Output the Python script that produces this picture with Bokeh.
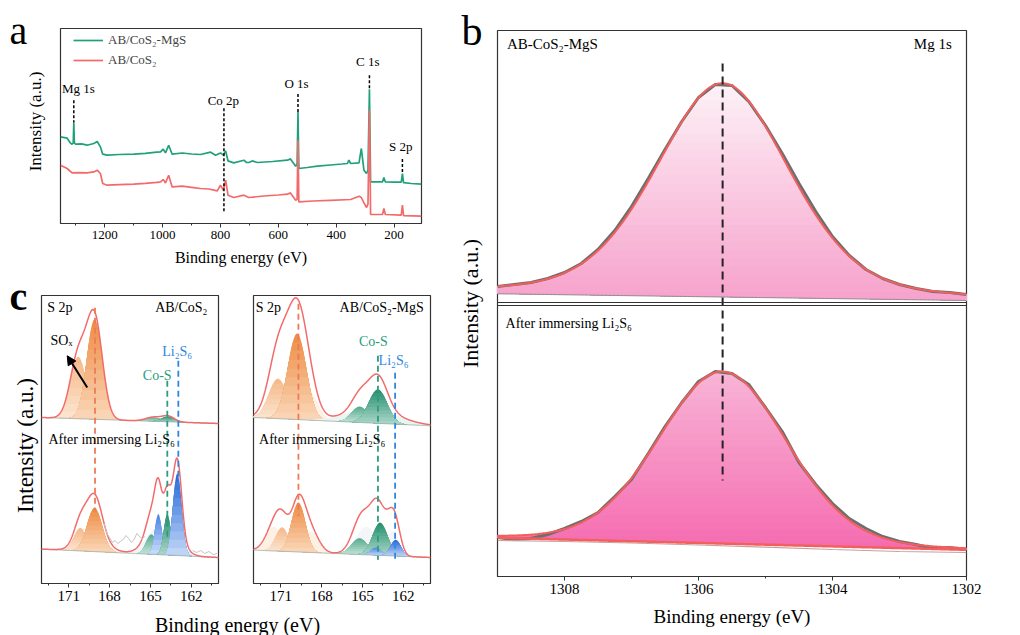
import numpy as np
from bokeh.plotting import figure
from bokeh.models import (Range1d, FixedTicker, Label, Span, Arrow, NormalHead,
                          Legend, LegendItem)
from bokeh.layouts import row, column
from bokeh.embed import file_html
from bokeh.resources import INLINE

SERIF = "Liberation Serif"
INK = "#333333"

# ======================= DATA =======================
# (a) XPS survey spectra: binding energy (eV) / intensity (a.u.)
a_energy_mgs = [1353, 1330, 1319, 1313, 1309, 1307, 1305, 1301, 1280, 1261,
                1238, 1226, 1215, 1207, 1192, 1150, 1100, 1060, 1020, 1007,
                998, 990, 979, 967, 932, 900, 869, 834, 817, 800,
                790, 782, 774, 754, 719, 710, 702, 690, 673, 620,
                569, 558, 540, 535, 532, 529, 500, 465, 420, 380,
                361, 356, 350, 321, 313, 304, 295, 290, 285, 281,
                257, 240, 235, 230, 200, 175, 171, 167, 140, 105]
a_int_mgs = [86.6, 85.3, 80.6, 79.3, 80.3, 101.0, 80.3, 79.3, 79.6, 78.3,
             80.0, 82.0, 76.6, 69.3, 68.3, 69.0, 69.3, 70.2, 71.3, 71.6,
             74.3, 70.6, 78.3, 69.3, 70.5, 69.5, 69.0, 71.3, 68.3, 70.6,
             68.3, 72.6, 62.6, 60.6, 63.3, 61.0, 61.0, 62.6, 61.0, 62.0,
             63.3, 64.6, 57.3, 59.3, 111.6, 55.0, 56.0, 57.3, 58.5, 59.5,
             60.0, 63.3, 60.0, 60.7, 75.0, 53.3, 50.0, 53.3, 134.3, 41.6,
             41.6, 41.6, 46.0, 41.6, 41.4, 41.3, 50.0, 40.8, 40.0, 39.3]
a_energy_cos = [1353, 1330, 1313, 1290, 1261, 1238, 1226, 1215, 1207, 1192,
                1150, 1100, 1060, 1020, 1007, 998, 990, 979, 967, 932,
                900, 869, 840, 811, 800, 790, 782, 774, 754, 719,
                702, 650, 600, 569, 558, 540, 535, 532, 529, 480,
                420, 350, 321, 313, 304, 295, 290, 285, 281, 240,
                235, 230, 175, 171, 167, 105]
a_int_cos = [58.3, 55.0, 50.6, 50.8, 50.6, 51.6, 53.3, 50.0, 40.0, 38.3,
             38.8, 39.3, 40.2, 41.2, 41.6, 44.0, 40.6, 48.3, 36.6, 37.3,
             36.2, 35.0, 34.5, 32.6, 38.3, 33.3, 43.3, 28.3, 26.0, 28.3,
             26.0, 27.5, 28.5, 29.3, 30.6, 23.3, 24.3, 83.3, 21.6, 22.5,
             23.2, 24.0, 27.3, 26.0, 20.6, 16.0, 19.3, 113.3, 9.0, 9.0,
             15.0, 9.0, 8.3, 18.3, 7.8, 7.3]
a_series = ["AB/CoS\u2082-MgS", "AB/CoS\u2082"]
a_peak_names = ["Mg 1s", "Co 2p", "O 1s", "C 1s", "S 2p"]
a_peak_energy = [1307, 788, 532, 285, 171]
a_ticks = [1200, 1000, 800, 600, 400, 200]

# (b) Mg 1s high resolution
b_energy = [1309.0, 1308.75, 1308.5, 1308.25, 1308.0, 1307.75, 1307.5, 1307.25,
            1307.0, 1306.75, 1306.5, 1306.25, 1306.0, 1305.75, 1305.5, 1305.25,
            1305.0, 1304.75, 1304.5, 1304.25, 1304.0, 1303.75, 1303.5, 1303.25,
            1303.0, 1302.75, 1302.5, 1302.25, 1302.0]
b_raw_mgs = [290, 292, 294, 298, 304, 313, 327, 346, 370, 398, 427, 455, 479, 492, 491,
             475, 451, 423, 393, 365, 340, 321, 307, 298, 292, 288, 285, 284, 282]
b_raw_li2s6 = [39, 37, 38, 42, 48, 55, 64, 80, 97, 123, 150, 174, 195, 205, 203,
               192, 169, 145, 114, 92, 73, 58, 48, 40, 35, 32, 28, 29, 27]
b_shirley_energy = [1309, 1308, 1307, 1306, 1305, 1304, 1303, 1302]
b_shirley_li2s6 = [36.0, 35.0, 33.5, 31.5, 29.3, 27.0, 25.0, 24.0]
b_fit_center = [1305.64, 1305.64]
b_fit_fwhm = [2.35, 2.25]
b_fit_height = [213.8, 172.0]
b_fit_lorentz = [0.3, 0.1]
b_base_1309 = [282.7, 38.7]
b_base_1302 = [276.0, 26.7]
b_ticks = [1308, 1306, 1304, 1302]

# (c) S 2p fitted components: kind, centre (eV), FWHM (eV), height (a.u.)
c_ticks = [171, 168, 165, 162]
c1_top_kind = ["orange_light", "orange", "green_light", "green"]
c1_top_center = [170.3, 169.1, 164.8, 163.7]
c1_top_fwhm = [1.4, 1.35, 1.3, 1.1]
c1_top_height = [62, 100, 4, 5.5]
c1_top_base = [166.0, 160.0]          # baseline at 173 eV and 160 eV

c1_bot_kind = ["orange_pale", "orange_light", "orange", "pale", "blue_pale",
               "green_light", "blue_light", "green", "blue"]
c1_bot_center = [169.2, 170.15, 169.1, 164.5, 162.9, 164.93, 164.42, 163.76, 163.03]
c1_bot_fwhm = [2.4, 1.1, 1.3, 2.0, 1.5, 0.9, 0.6, 0.6, 0.75]
c1_bot_height = [12, 23, 44, 26, 9, 20, 40.6, 41, 82]
c1_bot_base = [34.4, 26.0]

c2_top_kind = ["orange_pale", "orange_pale", "orange_light", "orange",
               "green_pale", "green_light", "green"]
c2_top_center = [170.9, 169.0, 171.2, 169.8, 164.3, 165.2, 163.86]
c2_top_fwhm = [2.0, 1.6, 1.6, 1.6, 4.4, 1.4, 1.6]
c2_top_height = [35, 30, 40, 86, 14, 16, 34]
c2_top_base = [166.0, 157.7]

c2_bot_kind = ["orange_pale", "orange_pale", "orange_light", "orange", "pale", "pale",
               "green_light", "green", "blue_light", "blue"]
c2_bot_center = [171.5, 168.8, 170.9, 169.7, 164.7, 162.8, 165.2, 163.7, 164.0, 162.55]
c2_bot_fwhm = [1.4, 1.4, 1.1, 1.2, 1.8, 1.0, 1.4, 1.3, 0.9, 0.9]
c2_bot_height = [24, 21, 24, 49.5, 28, 25, 16.4, 32.8, 7.7, 16.2]
c2_bot_base = [33.4, 26.0]

# ======================= STYLE =======================
KIND = {
    "orange": ("#ee8f48", "#fbdcc0", 10),
    "orange_light": ("#f5bb8c", "#fde9d9", 8),
    "orange_pale": ("#fdf0e5", "#fdf0e5", 1),
    "green": ("#2b9170", "#b5ddd0", 10),
    "green_light": ("#5cae92", "#d2eae1", 8),
    "green_pale": ("#eaf5f1", "#eaf5f1", 1),
    "blue": ("#2c6cdc", "#cddff8", 10),
    "blue_light": ("#4f88e6", "#d7e5fa", 8),
    "blue_pale": ("#dce7fa", "#eef4fd", 4),
    "pale": ("#f3f5f9", "#f3f5f9", 1),
}
GREEN = "#21a07c"
RED = "#f26b6b"
CO_S = "#2a9d7f"
LI_BLUE = "#2f86e0"
ORANGE_DASH = "#ee7a55"


def mix(c1, c2, t):
    a = [int(c1[i:i + 2], 16) for i in (1, 3, 5)]
    b = [int(c2[i:i + 2], 16) for i in (1, 3, 5)]
    return "#%02x%02x%02x" % tuple(int(round(a[k] * t + b[k] * (1 - t))) for k in range(3))


def peak(x, c, w, h, eta=0.0):
    g = np.exp(-4 * np.log(2) * ((x - c) / w) ** 2)
    lo = 1.0 / (1.0 + (2 * (x - c) / w) ** 2)
    return h * ((1 - eta) * g + eta * lo)


def grad_area(p, x, lo, hi, c_top, c_bot, n):
    y0, y1 = float(lo.min()), float(hi.max())
    for k in range(n, 0, -1):
        level = y0 + (y1 - y0) * k / n
        up = np.maximum(lo, np.minimum(hi, level))
        p.varea(x=x, y1=lo, y2=up, fill_color=mix(c_top, c_bot, k / n), fill_alpha=1.0)


def base_frame(p):
    p.grid.visible = False
    p.outline_line_color = INK
    p.outline_line_width = 1.2
    p.outline_line_alpha = 1.0
    p.background_fill_color = "white"
    p.border_fill_color = "white"


def style_x(p, ticks, minor, size, label=None, label_size=None, tick_standoff=3, label_standoff=5):
    ax = p.xaxis[0]
    ax.ticker = FixedTicker(ticks=ticks, minor_ticks=minor)
    ax.major_tick_in = 0
    ax.major_tick_out = 4
    ax.minor_tick_in = 0
    ax.minor_tick_out = 2
    ax.axis_line_color = INK
    ax.major_tick_line_color = INK
    ax.minor_tick_line_color = INK
    ax.major_label_text_font = SERIF
    ax.major_label_text_font_size = size
    ax.major_label_text_color = "black"
    ax.major_label_standoff = tick_standoff
    if label:
        ax.axis_label = label
        ax.axis_label_text_font = SERIF
        ax.axis_label_text_font_size = label_size
        ax.axis_label_text_font_style = "normal"
        ax.axis_label_text_color = "black"
        ax.axis_label_standoff = label_standoff


def text(p, x, y, s, size, align="left", baseline="middle", color="black", style="normal",
         angle=0.0):
    p.add_layout(Label(x=x, y=y, text=s, text_font=SERIF, text_font_size=size,
                       text_align=align, text_baseline=baseline, text_color=color,
                       text_font_style=style, angle=angle))


def strip(w, h):
    """A blank figure used as margin space that carries panel letters and y titles.
    Its units are pixels measured from its bottom-left corner."""
    s = figure(width=w, height=h, x_range=Range1d(0, w), y_range=Range1d(0, h),
               output_backend="svg", toolbar_location=None, title=None, min_border=0,
               x_axis_type=None, y_axis_type=None, frame_align=False)
    s.grid.visible = False
    s.outline_line_color = None
    s.background_fill_color = "white"
    s.border_fill_color = "white"
    return s


# ======================= PANEL a =======================
HA = 274
sa = strip(59, HA)
text(sa, 9, HA - 30, "a", "40px")
text(sa, 35, HA - 121, "Intensity (a.u.)", "17px", align="center", angle=np.pi / 2)

pa = figure(width=389, height=HA, x_range=Range1d(1353, 105), y_range=Range1d(0, 195),
            output_backend="svg", toolbar_location=None, title=None, y_axis_type=None,
            frame_align=False,
            min_border_left=1, min_border_right=27, min_border_top=28,
            min_border_bottom=HA - 223)
base_frame(pa)
style_x(pa, a_ticks, [1300, 1100, 900, 700, 500, 300], "13px",
        "Binding energy (eV)", "16px", tick_standoff=3, label_standoff=7)

r_g = pa.line(a_energy_mgs, a_int_mgs, line_color=GREEN, line_width=1.7)
r_r = pa.line(a_energy_cos, a_int_cos, line_color=RED, line_width=1.7)

a_line_top = [123.3, 115.3, 129.6, 148.3, 64.6]
a_line_bot = [101.0, 11.3, 111.6, 134.3, 50.0]
pa.segment(x0=a_peak_energy, y0=a_line_top, x1=a_peak_energy, y1=a_line_bot,
           line_color="black", line_width=1.5, line_dash="3 2")
a_label_x = [1291, 790, 537, 291, 177]
a_label_y = [135.3, 123.3, 140.0, 161.6, 77.3]
for nm, lx, ly in zip(a_peak_names, a_label_x, a_label_y):
    text(pa, lx, ly, nm, "13px", align="center")

leg = Legend(items=[LegendItem(label=a_series[0], renderers=[r_g]),
                    LegendItem(label=a_series[1], renderers=[r_r])],
             location=(13, 153))
leg.glyph_width = 30
leg.glyph_height = 20
leg.label_height = 20
leg.label_standoff = 5
leg.spacing = 0
leg.padding = 0
leg.margin = 0
leg.border_line_color = None
leg.background_fill_alpha = 0
leg.label_text_font = SERIF
leg.label_text_font_size = "13px"
leg.label_text_baseline = "middle"
pa.add_layout(leg)

# ======================= PANEL c =======================
HC = 608 - HA
xc = np.linspace(173, 160, 521)


def draw_spectrum(p, kinds, centers, fwhms, heights, base_ends):
    base = base_ends[1] + (xc - 160) / 13.0 * (base_ends[0] - base_ends[1])
    total = base.copy()
    for kd, c, w, h in zip(kinds, centers, fwhms, heights):
        comp = peak(xc, c, w, h)
        total = total + comp
        m = comp > 0.3
        if m.sum() < 2:
            continue
        ct, cb, n = KIND[kd]
        grad_area(p, xc[m], base[m], base[m] + comp[m], ct, cb, n)
    p.line(xc, base, line_color="#9fb3ad", line_width=1)
    p.line(xc, total, line_color=RED, line_width=1.5)


def make_c(width, left, right):
    p = figure(width=width, height=HC, x_range=Range1d(173, 160), y_range=Range1d(0, 288),
               output_backend="svg", toolbar_location=None, title=None, y_axis_type=None,
               frame_align=False,
               min_border_left=left, min_border_right=right, min_border_top=295 - HA,
               min_border_bottom=25)
    base_frame(p)
    style_x(p, c_ticks, [172.5, 169.5, 166.5, 163.5, 160.5], "15px", tick_standoff=3)
    return p


sc = strip(40, HC)
text(sc, 9, HC - (296 - HA), "c", "40px", style="bold")
text(sc, 25, HC - (445 - HA), "Intensity (a.u.)", "23px", align="center", angle=np.pi / 2)

pc1 = make_c(195, 1, 17)
draw_spectrum(pc1, c1_top_kind, c1_top_center, c1_top_fwhm, c1_top_height, c1_top_base)
draw_spectrum(pc1, c1_bot_kind, c1_bot_center, c1_bot_fwhm, c1_bot_height, c1_bot_base)
pc1.line([168.4, 168.2, 168.0, 167.8, 167.6, 167.4, 167.2, 167.0, 166.8, 166.6, 166.4,
          166.2, 166.0, 165.8, 165.6, 165.4],
         [60, 50, 46, 41, 43, 40, 42, 44, 48, 45, 41, 44, 50, 47, 45, 47],
         line_color="#c4c4c4", line_width=1)
pc1.line([161.9, 161.6, 161.3, 161.0, 160.7, 160.4, 160.1],
         [33, 31, 33, 30, 32, 29, 30], line_color="#c4c4c4", line_width=1)
pc1.segment(x0=[169.07, 163.76, 162.95], y0=[275.7, 202.7, 222.7],
            x1=[169.07, 163.76, 162.95], y1=[72.7, 42.7, 89.7],
            line_color=[ORANGE_DASH, CO_S, LI_BLUE], line_width=1.8, line_dash="6 4")
text(pc1, 172.58, 275.7, "S 2p", "14px")
text(pc1, 160.81, 275.7, "AB/CoS\u2082", "14px", align="right")
text(pc1, 172.34, 242.7, "SO\u2093", "14px")
text(pc1, 164.5, 207.7, "Co-S", "14px", align="center", color=CO_S)
text(pc1, 163.03, 232.0, "Li\u2082S\u2086", "14px", align="center", color=LI_BLUE)
text(pc1, 172.49, 143.7, "After immersing  Li\u2082S\u2086", "14px")
pc1.add_layout(Arrow(end=NormalHead(size=9, fill_color="black", line_color="black"),
                     x_start=169.64, y_start=196.0, x_end=171.11, y_end=227.7,
                     line_color="black", line_width=2))

pc2 = make_c(213, 18, 18)
draw_spectrum(pc2, c2_top_kind, c2_top_center, c2_top_fwhm, c2_top_height, c2_top_base)
draw_spectrum(pc2, c2_bot_kind, c2_bot_center, c2_bot_fwhm, c2_bot_height, c2_bot_base)
pc2.segment(x0=[169.7, 163.86, 162.6], y0=[279.7, 227.7, 210.7],
            x1=[169.7, 163.86, 162.6], y1=[67.7, 23.7, 23.7],
            line_color=[ORANGE_DASH, CO_S, LI_BLUE], line_width=1.8, line_dash="6 4")
text(pc2, 172.83, 276.0, "S 2p", "14px")
text(pc2, 160.49, 275.7, "AB/CoS\u2082-MgS", "14px", align="right")
text(pc2, 164.2, 242.0, "Co-S", "14px", align="center", color=CO_S)
text(pc2, 162.71, 223.4, "Li\u2082S\u2086", "14px", align="center", color=LI_BLUE)
text(pc2, 172.59, 144.4, "After immersing  Li\u2082S\u2086", "14px")

scl = strip(448, 27)
text(scl, 237, 11, "Binding energy (eV)", "20px", align="center")

# ======================= PANEL b =======================
sb = strip(48, 635)
text(sb, 13, 635 - 30, "b", "42px")
text(sb, 22, 635 - 303, "Intensity (a.u.)", "22px", align="center", angle=np.pi / 2)

pb = figure(width=524, height=635, x_range=Range1d(1309, 1302), y_range=Range1d(0, 546),
            output_backend="svg", toolbar_location=None, title=None, y_axis_type=None,
            frame_align=False,
            min_border_left=1, min_border_right=54, min_border_top=30, min_border_bottom=59)
base_frame(pb)
style_x(pb, b_ticks, [1307, 1305, 1303], "15px", "Binding energy (eV)", "19px",
        tick_standoff=3, label_standoff=9)

xb = np.linspace(1309, 1302, 351)
b_raw = [b_raw_mgs, b_raw_li2s6]
b_grad = [("#fdf0f6", "#f6a0cb"), ("#f8b3d6", "#f56aaf")]
for k in range(2):
    base = b_base_1302[k] + (xb - 1302) / 7.0 * (b_base_1309[k] - b_base_1302[k])
    env = base + peak(xb, b_fit_center[k], b_fit_fwhm[k], b_fit_height[k], b_fit_lorentz[k])
    grad_area(pb, xb, base, env, b_grad[k][0], b_grad[k][1], 26)
    pb.line(b_energy, b_raw[k], line_color="#6e6e6e", line_width=3)
    if k == 0:
        pb.line(xb, base, line_color="#8c8c8c", line_width=1)
    else:
        pb.line(b_shirley_energy, b_shirley_li2s6, line_color="#c9a0a0", line_width=1.2)
        pb.line(xb, base, line_color="#f25f5c", line_width=2.5)
    pb.line(xb, env, line_color="#f25f5c", line_width=2)

pb.add_layout(Span(location=274, dimension="width", line_color=INK, line_width=1))
pb.add_layout(Span(location=271, dimension="width", line_color=INK, line_width=1))
pb.segment(x0=[b_fit_center[0]], y0=[513], x1=[b_fit_center[0]], y1=[96],
           line_color="#222222", line_width=2, line_dash="8 5")
text(pb, 1308.86, 532.7, "AB-CoS\u2082-MgS", "15px")
text(pb, 1302.22, 532.7, "Mg 1s", "15px", align="right")
text(pb, 1308.88, 253.0, "After immersing  Li\u2082S\u2086", "14px")

# ======================= LAYOUT =======================
left = column(row(sa, pa), row(sc, pc1, pc2), scl)
layout = row(left, row(sb, pb))
open("out.html", "w").write(file_html(layout, INLINE, title="XPS"))
